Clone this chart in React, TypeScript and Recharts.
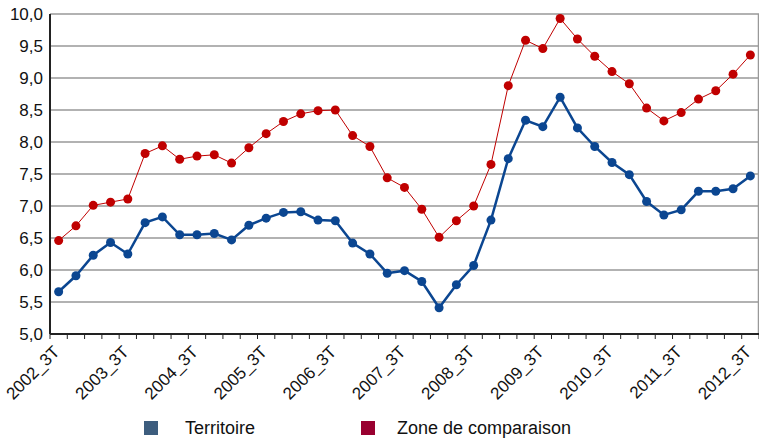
import React from 'react';
import { LineChart, Line, XAxis, YAxis, CartesianGrid, Legend } from 'recharts';

// quarter labels, one every quarter from 2002_3T to 2012_3T
const quarters: string[] = [];
for (let y = 2002; y <= 2012; y++) {
  for (let q = 1; q <= 4; q++) {
    if ((y === 2002 && q < 3) || (y === 2012 && q > 3)) continue;
    quarters.push(`${y}_${q}T`);
  }
}

const territoire = [
  5.66, 5.91, 6.23, 6.43, 6.25, 6.74, 6.83, 6.55, 6.55, 6.57, 6.47, 6.70,
  6.81, 6.90, 6.91, 6.78, 6.77, 6.42, 6.25, 5.95, 5.99, 5.82, 5.41, 5.77,
  6.07, 6.78, 7.74, 8.34, 8.24, 8.70, 8.22, 7.93, 7.68, 7.49, 7.07, 6.86,
  6.94, 7.23, 7.23, 7.27, 7.47,
];

const zoneComparaison = [
  6.46, 6.69, 7.01, 7.06, 7.11, 7.82, 7.94, 7.73, 7.78, 7.80, 7.67, 7.91,
  8.13, 8.32, 8.44, 8.49, 8.50, 8.10, 7.93, 7.44, 7.29, 6.95, 6.51, 6.77,
  7.00, 7.65, 8.88, 9.59, 9.46, 9.93, 9.61, 9.34, 9.10, 8.91, 8.53, 8.33,
  8.46, 8.67, 8.80, 9.06, 9.36,
];

const yTicks = [5, 5.5, 6, 6.5, 7, 7.5, 8, 8.5, 9, 9.5, 10];

const data = quarters.map((q, i) => ({
  quarter: q,
  territoire: territoire[i],
  zone: zoneComparaison[i],
}));

const FONT = '"Liberation Sans", Arial, sans-serif';
const WIDTH = 759;
const PLOT_W = 709;
const BAND = PLOT_W / quarters.length;

const XTick = (props: any) => {
  const { x, y, index, payload } = props;
  const lx = x + 2;
  const ly = y + 19;
  return (
    <g>
      <line x1={x + BAND / 2} x2={x + BAND / 2} y1={y} y2={y + 5} stroke="#222" strokeWidth={1} />
      {index === 0 && <line x1={x - BAND / 2} x2={x - BAND / 2} y1={y} y2={y + 5} stroke="#222" />}
      {index % 4 === 0 && (
        <text
          x={lx}
          y={ly}
          transform={`rotate(-45, ${lx}, ${ly})`}
          textAnchor="end"
          fontSize={17}
          fontFamily={FONT}
          fill="#111"
        >
          {payload.value}
        </text>
      )}
    </g>
  );
};

const LegendBox = () => (
  <div style={{ position: 'relative', width: WIDTH, height: 30, fontFamily: FONT, fontSize: 18, color: '#111' }}>
    <div style={{ position: 'absolute', left: 144, top: 12, width: 14, height: 14, background: '#3d5d7e' }} />
    <div style={{ position: 'absolute', left: 185, top: 8, lineHeight: '22px' }}>Territoire</div>
    <div style={{ position: 'absolute', left: 361, top: 12, width: 14, height: 14, background: '#990030' }} />
    <div style={{ position: 'absolute', left: 397, top: 8, lineHeight: '22px' }}>Zone de comparaison</div>
  </div>
);

export default function App() {
  return (
    <div style={{ position: 'absolute', left: 0, top: 0, background: '#fff' }}>
      <LineChart
        width={WIDTH}
        height={439}
        data={data}
        margin={{ top: 14, right: 0, bottom: 0, left: 0 }}
      >
        <CartesianGrid
          stroke="#999"
          strokeWidth={1.5}
          horizontal={true}
          vertical={true}
          verticalCoordinatesGenerator={({ offset }: any) => [offset.left + offset.width - 0.5]}
        />
        <XAxis
          dataKey="quarter"
          interval={0}
          padding={{ left: BAND / 2, right: BAND / 2 }}
          tickLine={false}
          tickSize={0}
          tickMargin={0}
          height={75}
          axisLine={{ stroke: '#222', strokeWidth: 2 }}
          tick={<XTick />}
        />
        <YAxis
          domain={[5, 10]}
          ticks={yTicks}
          interval={0}
          width={50}
          tickLine={false}
          tickSize={0}
          tickMargin={7}
          axisLine={{ stroke: '#222', strokeWidth: 2 }}
          tick={{ fontSize: 17, fontFamily: FONT, fill: '#111' }}
          tickFormatter={(v: number) => v.toFixed(1).replace('.', ',')}
        />
        <Legend
          verticalAlign="bottom"
          content={() => <LegendBox />}
          wrapperStyle={{ left: 0, bottom: 0, width: WIDTH, height: 30 }}
        />
        <Line
          type="linear"
          dataKey="zone"
          name="Zone de comparaison"
          stroke="#c00000"
          strokeWidth={1}
          dot={{ r: 4.5, fill: '#c00000', stroke: '#c00000', strokeWidth: 0 }}
          isAnimationActive={false}
        />
        <Line
          type="linear"
          dataKey="territoire"
          name="Territoire"
          stroke="#0b4691"
          strokeWidth={2.5}
          dot={{ r: 4.5, fill: '#0b4691', stroke: '#0b4691', strokeWidth: 0 }}
          isAnimationActive={false}
        />
      </LineChart>
    </div>
  );
}
